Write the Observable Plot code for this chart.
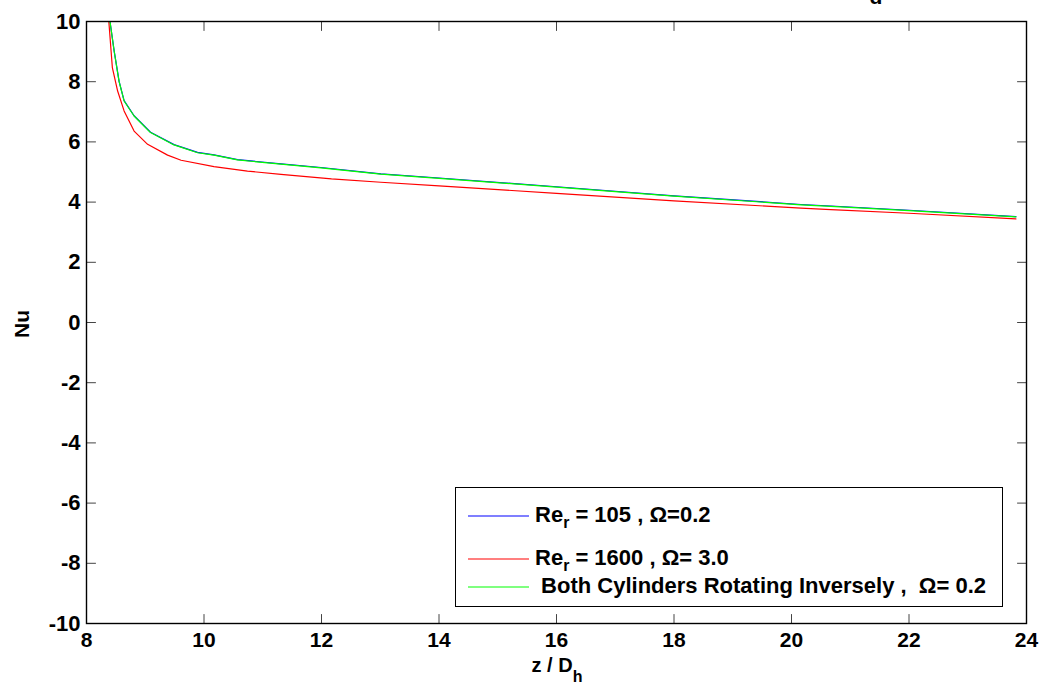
<!DOCTYPE html>
<html>
<head>
<meta charset="utf-8">
<script src="https://cdn.jsdelivr.net/npm/d3@7"></script>
<script src="https://cdn.jsdelivr.net/npm/@observablehq/plot@0.6"></script>
<style>
  html, body { margin: 0; padding: 0; background: #fff; }
  #wrap { position: relative; width: 1039px; height: 693px; overflow: hidden;
          font-family: "Liberation Sans", Arial, Helvetica, sans-serif; font-weight: bold; }
  #legend { position: absolute; left: 455px; top: 487px; width: 546px; height: 118px;
            border: 1px solid #000; background: #fff; font-size: 22px; color: #000; }
  .entry { position: absolute; left: 12px; white-space: pre; line-height: 22px; height: 22px; }
  .swatch { display: inline-block; vertical-align: middle; margin-right: 6px; }
  .entry sub { font-size: 0.72em; vertical-align: -0.4em; line-height: 0; }
</style>
</head>
<body>
<div id="wrap"></div>
<script>
// Axial position z / D_h and local Nusselt number for each case
const zBlue  = [8.40, 8.47, 8.555, 8.64, 8.81, 9.09, 9.49, 9.89, 10.17, 10.57, 11.31, 11.99, 13.01, 14.0, 16.0, 18.0, 20.16, 20.67, 22.0, 23.82];
const nuBlue = [10.0, 9.03, 8.01, 7.37, 6.87, 6.32, 5.91, 5.65, 5.57, 5.41, 5.27, 5.15, 4.94, 4.80, 4.51, 4.21, 3.92, 3.87, 3.73, 3.52];

const zRed   = [8.38, 8.44, 8.53, 8.64, 8.81, 9.04, 9.38, 9.61, 10.17, 10.74, 11.31, 12.17, 13.01, 14.0, 16.0, 18.0, 20.16, 20.67, 22.0, 23.82];
const nuRed  = [10.0, 8.47, 7.69, 7.03, 6.36, 5.92, 5.56, 5.39, 5.18, 5.03, 4.92, 4.77, 4.66, 4.54, 4.29, 4.04, 3.80, 3.75, 3.63, 3.44];

const zGreen  = [8.40, 8.47, 8.555, 8.64, 8.81, 9.09, 9.49, 9.89, 10.17, 10.57, 11.31, 11.99, 13.01, 14.0, 16.0, 18.0, 20.16, 20.67, 22.0, 23.82];
const nuGreen = [10.0, 9.02, 8.0, 7.36, 6.86, 6.31, 5.90, 5.64, 5.56, 5.40, 5.26, 5.14, 4.93, 4.79, 4.50, 4.20, 3.91, 3.86, 3.72, 3.51];

const seriesColors = ["#0000ff", "#ff0000", "#00ff00"];

// Axis ticks
const xTicks = [8, 10, 12, 14, 16, 18, 20, 22, 24];
const yTicks = [-10, -8, -6, -4, -2, 0, 2, 4, 6, 8, 10];

const toRows = (zs, nus) => zs.map((z, i) => ({z, nu: nus[i]}));
const blue = toRows(zBlue, nuBlue);
const red = toRows(zRed, nuRed);
const green = toRows(zGreen, nuGreen);

// Inward tick marks drawn as short vectors
const tickShape = { draw(context, l) { context.moveTo(0, 0); context.lineTo(0, -l); } };
const tickOpts = { length: 9, anchor: "start", shape: tickShape, stroke: "#444", strokeWidth: 1 };
const plainNumber = d => String(d);

const W = 1039, H = 693;
const chart = Plot.plot({
  width: W, height: H,
  marginLeft: 86, marginRight: 13, marginTop: 21, marginBottom: 70,
  style: { fontFamily: "'Liberation Sans', Arial, Helvetica, sans-serif", background: "#fff", overflow: "visible" },
  x: { domain: [8, 24] },
  y: { domain: [-10, 10] },
  marks: [
    Plot.line(blue,  { x: "z", y: "nu", stroke: seriesColors[0], strokeWidth: 1.2 }),
    Plot.line(red,   { x: "z", y: "nu", stroke: seriesColors[1], strokeWidth: 1.2 }),
    Plot.line(green, { x: "z", y: "nu", stroke: seriesColors[2], strokeWidth: 1.2 }),
    Plot.vector(xTicks, { x: d => d, frameAnchor: "bottom", rotate: 0, ...tickOpts }),
    Plot.vector(xTicks, { x: d => d, frameAnchor: "top", rotate: 180, ...tickOpts }),
    Plot.vector(yTicks, { y: d => d, frameAnchor: "left", rotate: 90, ...tickOpts }),
    Plot.vector(yTicks, { y: d => d, frameAnchor: "right", rotate: 270, ...tickOpts }),
    Plot.frame({ stroke: "#000", strokeWidth: 1.4 }),
    Plot.axisX(xTicks, { anchor: "bottom", tickSize: 0, tickPadding: 9, tickFormat: plainNumber, fontSize: 21, fontWeight: "bold", fill: "#000", label: null }),
    Plot.axisY(yTicks, { anchor: "left", tickSize: 0, tickPadding: 6, tickFormat: plainNumber, fontSize: 22, fontWeight: "bold", fill: "#000", label: null })
  ]
});

const wrap = document.getElementById("wrap");
wrap.appendChild(chart);

// Axis titles with subscripts
const svg = d3.select(chart);
svg.append("text")
  .attr("transform", "translate(29,324) rotate(-90)")
  .attr("text-anchor", "middle")
  .attr("font-size", 21).attr("font-weight", "bold").attr("fill", "#000")
  .text("Nu");

const xl = svg.append("text")
  .attr("x", 557).attr("y", 672)
  .attr("text-anchor", "middle")
  .attr("font-size", 20).attr("font-weight", "bold").attr("fill", "#000");
xl.append("tspan").text("z / D");
xl.append("tspan").attr("font-size", 16).attr("dy", 10).text("h");

// Title subscript at the top edge
svg.append("text")
  .attr("x", 876).attr("y", 4)
  .attr("text-anchor", "middle")
  .attr("font-size", 21).attr("font-weight", "bold").attr("fill", "#000")
  .text("d");

// Legend
const legendItems = [
  { color: seriesColors[0], html: "Re<sub>r</sub> = 105 , &Omega;=0.2", top: 16 },
  { color: seriesColors[1], html: "Re<sub>r</sub> = 1600 , &Omega;= 3.0", top: 59 },
  { color: seriesColors[2], html: " Both Cylinders Rotating Inversely ,  &Omega;= 0.2", top: 87 }
];
const legend = document.createElement("div");
legend.id = "legend";
legendItems.forEach(item => {
  const row = document.createElement("div");
  row.className = "entry";
  row.style.top = item.top + "px";
  row.innerHTML = `<svg class="swatch" width="61" height="4"><line x1="0" x2="61" y1="2" y2="2" stroke="${item.color}" stroke-width="1.2"/></svg>${item.html}`;
  legend.appendChild(row);
});
wrap.appendChild(legend);
</script>
</body>
</html>
